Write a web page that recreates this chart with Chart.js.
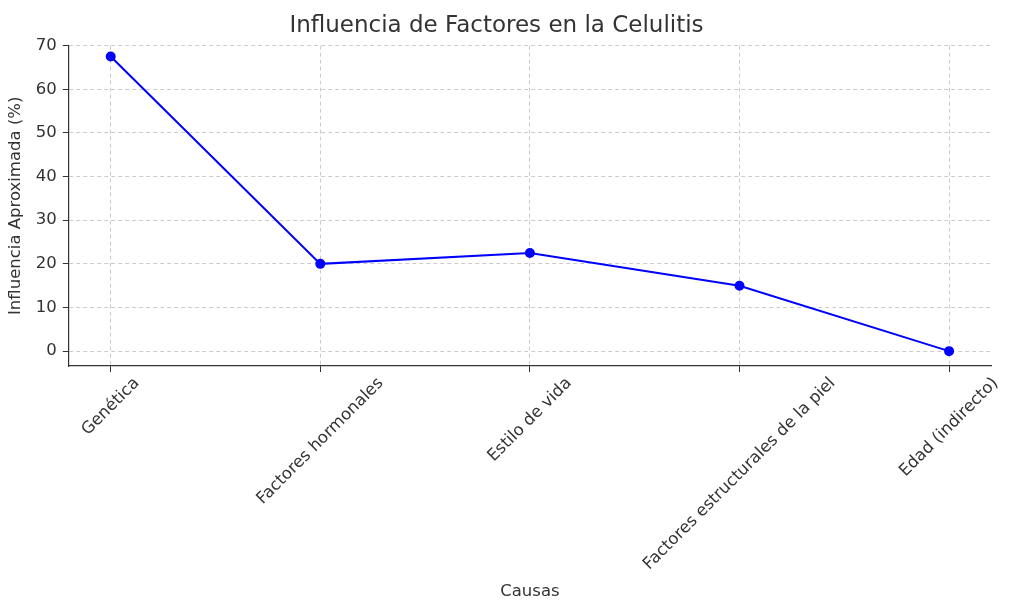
<!DOCTYPE html>
<html><head><meta charset="utf-8">
<script src="https://cdn.jsdelivr.net/npm/chart.js@4"></script>
<style>html,body{margin:0;background:#fff}#w{width:1024px;height:614px}</style>
</head><body><div id="w"><canvas id="c"></canvas></div>
<script>
const categories = ["Genética","Factores hormonales","Estilo de vida","Factores estructurales de la piel","Edad (indirecto)"];
const values = [67.5, 20, 22.5, 15, 0];
const yTicks = [0,10,20,30,40,50,60,70];
const FONT = "'DejaVu Sans', sans-serif";
Chart.defaults.font.family = FONT;
Chart.defaults.color = '#333';

const labelPlugin = {
  id: 'rotLabels',
  afterDraw(chart) {
    const ctx = chart.ctx, xs = chart.scales.x;
    ctx.save();
    ctx.font = "16.5px " + FONT;
    ctx.fillStyle = '#333';
    ctx.textAlign = 'center';
    ctx.textBaseline = 'middle';
    categories.forEach((t, i) => {
      const x = xs.getPixelForValue(i);
      const w = ctx.measureText(t).width, h = 16;
      const cy = xs.top + 9 + (w + h) * 0.7071 / 2;
      ctx.save();
      ctx.translate(x, cy);
      ctx.rotate(-Math.PI / 4);
      ctx.fillText(t, 0, 0);
      ctx.restore();
    });
    ctx.restore();
  }
};

new Chart(document.getElementById('c'), {
  type: 'line',
  data: { datasets: [{
    data: values.map((v, i) => ({x: i, y: v})),
    borderColor: '#0000ff', backgroundColor: '#0000ff',
    borderWidth: 2, pointRadius: 4, pointHoverRadius: 4, tension: 0
  }]},
  options: {
    responsive: true, maintainAspectRatio: false, animation: false,
    layout: { padding: { left: 2, right: 33, top: 4, bottom: 8 } },
    plugins: {
      legend: { display: false }, tooltip: { enabled: false },
      title: { display: true, text: 'Influencia de Factores en la Celulitis', color: '#333',
        font: { size: 23, weight: 'normal' }, padding: { top: 8, bottom: 6 } }
    },
    scales: {
      x: {
        type: 'linear', min: -0.2, max: 4.2,
        afterBuildTicks: s => { s.ticks = categories.map((_, i) => ({value: i})); },
        afterFit: s => { s.height = 240; },
        ticks: { display: false },
        grid: { color: 'rgba(0,0,0,0.2)', tickColor: '#333', tickLength: 6, tickBorderDash: [] },
        border: { color: '#333', width: 1.2, dash: [4, 3] },
        title: { display: true, text: 'Causas', font: { size: 16.5 }, color: '#333', padding: { top: 0 } }
      },
      y: {
        min: -3.4, max: 70,
        afterBuildTicks: s => { s.ticks = yTicks.map(v => ({value: v})); },
        ticks: { font: { size: 16.5 }, color: '#333', padding: 6 },
        grid: { color: 'rgba(0,0,0,0.2)', tickColor: '#333', tickLength: 6, tickBorderDash: [] },
        border: { color: '#333', width: 1.2, dash: [4, 3] },
        title: { display: true, text: 'Influencia Aproximada (%)', font: { size: 16.5 }, color: '#333' }
      }
    }
  },
  plugins: [labelPlugin]
});
</script></body></html>
